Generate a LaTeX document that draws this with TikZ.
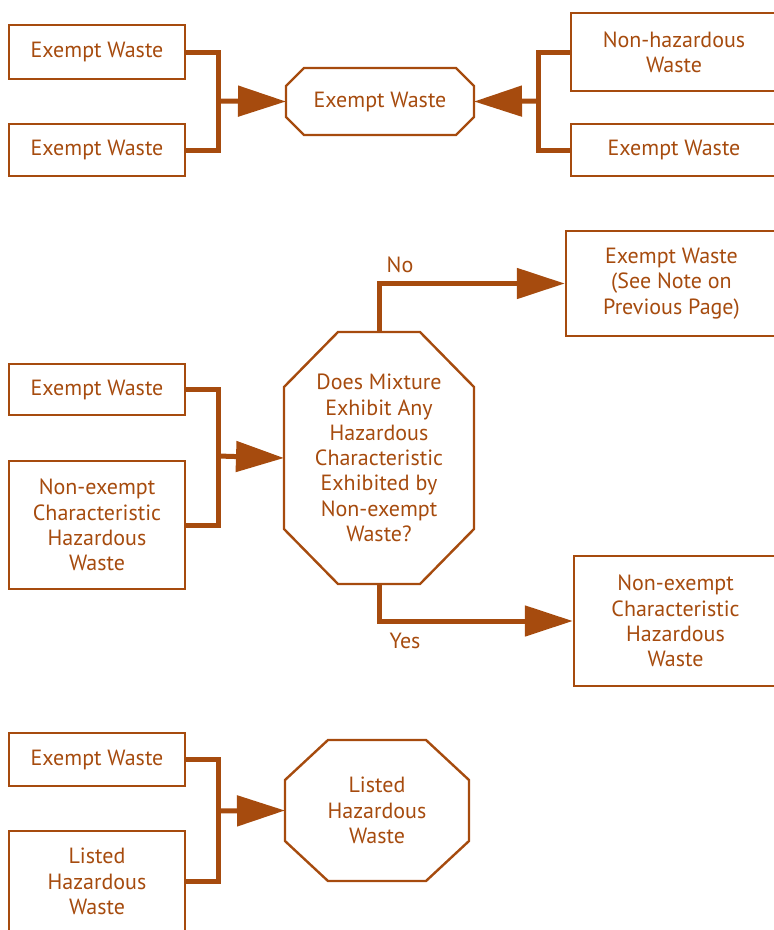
\documentclass[tikz,border=0pt]{standalone}
\usepackage{fontspec}
\setmainfont{PT Sans}
\usetikzlibrary{arrows.meta}
\definecolor{rust}{HTML}{A64B0E}
\tikzset{
    txt/.style={text=rust,align=center,inner sep=0pt,font=\fontsize{22}{25.3}\selectfont},
    box/.style={txt,draw=rust,line width=2.4pt},
    oct/.style={txt,outer sep=0pt},
    rim/.style={draw=rust,line width=2.4pt},
    feed/.style={draw=rust,line width=5pt},
    big/.style={-{Triangle[length=48pt,width=30pt]}}
}
\newcommand\chamfer[3]{
    \draw[rim] ([xshift=#2]#1.north west)--([xshift=-#2]#1.north east)--([yshift=-#3]#1.north east)
        --([yshift=#3]#1.south east)--([xshift=-#2]#1.south east)--([xshift=#2]#1.south west)
        --([yshift=#3]#1.south west)--([yshift=-#3]#1.north west)--cycle;
}
\begin{document}
\begin{tikzpicture}[x=1pt,y=-1pt]
    \useasboundingbox (0,0) rectangle (774,930);
    \clip (0,0) rectangle (774,930);
    % top
    \node[box,minimum width=176pt,minimum height=54pt] (a1) at (97,52){Exempt Waste};
    \node[box,minimum width=176pt,minimum height=52pt] (a2) at (97,150){Exempt Waste};
    \node[oct,minimum width=188pt,minimum height=67pt] (o1) at (380,101.5){Exempt Waste};
    \chamfer{o1}{18pt}{18pt}
    \node[box,minimum width=206pt,minimum height=78pt] (b1) at (674,52){Non-hazardous\\Waste};
    \node[box,minimum width=206pt,minimum height=52pt] (b2) at (674,150){Exempt Waste};
    \coordinate (j1) at (218,101);
    \coordinate (k1) at (538,101);
    \draw[feed] (a1.east)-|(j1)|-(a2.east);
    \draw[feed] (b1.west)-|(k1)|-(b2.west);
    \draw[feed,big] (k1)--(o1.east);
    % middle
    \node[box,minimum width=211pt,minimum height=105pt] (c0) at (671.5,283.5){Exempt Waste\\(See Note on\\Previous Page)};
    \node[box,minimum width=176pt,minimum height=51pt] (c1) at (97,389.5){Exempt Waste};
    \node[box,minimum width=176pt,minimum height=128pt] (c2) at (97,525){Non-exempt\\Characteristic\\Hazardous\\Waste};
    \node[oct,minimum width=190pt,minimum height=252pt] (o2) at (379,458){Does Mixture\\Exhibit Any\\Hazardous\\Characteristic\\Exhibited by\\Non-exempt\\Waste?};
    \chamfer{o2}{54pt}{55pt}
    \node[box,minimum width=203pt,minimum height=130pt] (d) at (675.5,621){Non-exempt\\Characteristic\\Hazardous\\Waste};
    \coordinate (j2) at (218,456);
    \draw[feed] (c1.east)-|(j2)|-(c2.east);
    \draw[feed,big] (o2.north)|-(c0.west);
    \draw[feed,big] (o2.south)|-(d.west);
    \node[txt] (no) at (400,265){No};
    \node[txt] (yes) at (405,641){Yes};
    % bottom
    \node[box,minimum width=176pt,minimum height=53pt] (e1) at (97,759.5){Exempt Waste};
    \node[box,minimum width=176pt,minimum height=101pt] (e2) at (97,881.5){Listed\\Hazardous\\Waste};
    \node[oct,minimum width=184pt,minimum height=141pt] (o3) at (377,810.5){Listed\\Hazardous\\Waste};
    \chamfer{o3}{43pt}{40pt}
    \coordinate (j3) at (218,811);
    \draw[feed] (e1.east)-|(j3)|-(e2.east);
    \foreach \j/\o in {j1/o1,j2/o2,j3/o3}
    {
        \draw[feed,big] (\j)--(\o.west);
    }
\end{tikzpicture}
\end{document}
